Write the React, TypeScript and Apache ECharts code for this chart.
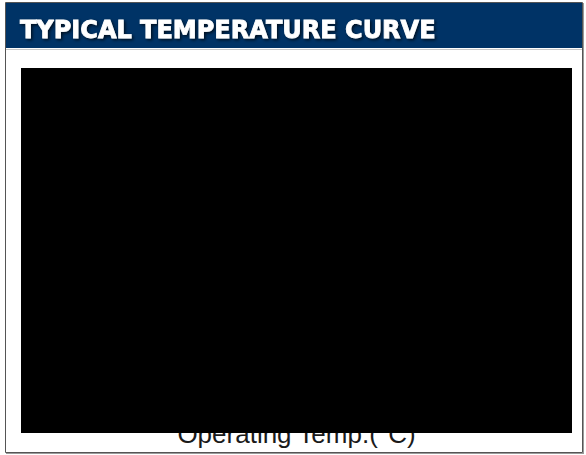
import React, { useEffect, useRef } from "react";
import * as echarts from "echarts";

const titleText = "TYPICAL TEMPERATURE CURVE";
const xAxisName = "Operating Temp.(°C)";
const xRange = [0, 100];
const yRange = [0, 100];

export default function App() {
  const ref = useRef<HTMLDivElement>(null);
  useEffect(() => {
    if (!ref.current) return;
    const chart = echarts.init(ref.current, null, { renderer: "svg" });
    chart.setOption({
      animation: false,
      backgroundColor: "#ffffff",
      title: {
        text: titleText,
        left: 15,
        top: 13,
        textStyle: {
          color: "#ffffff",
          fontFamily: "DejaVu Sans",
          fontWeight: "bold",
          fontSize: 24,
          textBorderColor: "#ffffff",
          textBorderWidth: 0.8,
          textShadowColor: "rgba(0,0,0,0.7)",
          textShadowBlur: 3,
          textShadowOffsetX: 1.5,
          textShadowOffsetY: 1.5,
        },
        z: 10,
      },
      graphic: [
        {
          type: "rect",
          z: -10,
          shape: { x: 5, y: 3, width: 578, height: 45 },
          style: { fill: "#003366" },
        },
        {
          type: "line",
          z: -10,
          shape: { x1: 5, y1: 49.5, x2: 583, y2: 49.5 },
          style: { stroke: "#c8c8c8", lineWidth: 1 },
        },
        {
          type: "rect",
          z: -9,
          shape: { x: 5.5, y: 2.5, width: 577, height: 450 },
          style: { fill: "none", stroke: "#555555", lineWidth: 1 },
        },
        {
          type: "line",
          z: -9,
          shape: { x1: 583.5, y1: 3, x2: 583.5, y2: 454 },
          style: { stroke: "#9a9a9a", lineWidth: 1 },
        },
        {
          type: "line",
          z: -9,
          shape: { x1: 6, y1: 453.5, x2: 584, y2: 453.5 },
          style: { stroke: "#9a9a9a", lineWidth: 1 },
        },
      ],
      grid: {
        show: true,
        left: 21,
        right: 14,
        top: 68,
        bottom: 22,
        backgroundColor: "#000000",
        borderWidth: 0,
        z: 2,
      },
      xAxis: {
        type: "value",
        z: -1,
        min: xRange[0],
        max: xRange[1],
        name: xAxisName,
        nameLocation: "middle",
        nameGap: -12,
        nameTextStyle: {
          color: "#1a1a1a",
          fontFamily: "Liberation Sans",
          fontSize: 26,
        },
        axisLine: { show: false },
        axisTick: { show: false },
        axisLabel: { show: false },
        splitLine: { show: false },
      },
      yAxis: {
        type: "value",
        z: -1,
        min: yRange[0],
        max: yRange[1],
        axisLine: { show: false },
        axisTick: { show: false },
        axisLabel: { show: false },
        splitLine: { show: false },
      },
      series: [],
    });
    return () => chart.dispose();
  }, []);
  return (
    <div
      ref={ref}
      style={{ position: "fixed", left: 0, top: 0, width: 586, height: 455 }}
    />
  );
}
